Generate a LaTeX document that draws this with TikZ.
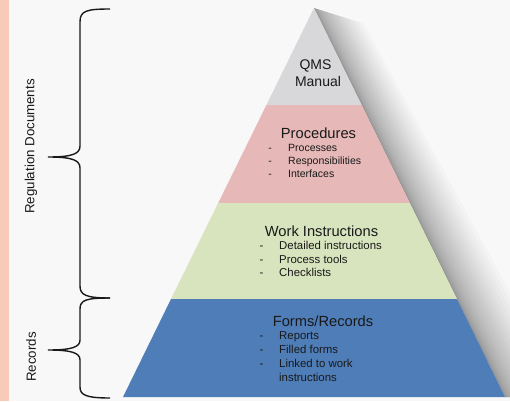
\documentclass[tikz,border=0pt]{standalone}
\usepackage{fontspec}
\setmainfont{Liberation Sans}
\usetikzlibrary{calc}
\begin{document}
\begin{tikzpicture}[x=1pt,y=-1pt,
  txt/.style={inner sep=0pt, text=black!90},
  title/.style={txt, anchor=base, font=\fontsize{14.7}{16}\selectfont},
  item/.style={txt, anchor=base west, font=\fontsize{10.5}{12}\selectfont},
  itemb/.style={txt, anchor=base west, font=\fontsize{11.4}{13}\selectfont},
  brace/.style={line width=1.4pt, black!90},
  side/.style={txt, rotate=90, font=\fontsize{13.3}{15}\selectfont}]
\definecolor{bg}{HTML}{F8F8F8}
\definecolor{strip}{HTML}{F8CBB8}
\definecolor{topgray}{HTML}{D8D8DA}
\definecolor{pinkband}{HTML}{E6B9B8}
\definecolor{greenband}{HTML}{D8E4BE}
\definecolor{blueband}{HTML}{4F7DB8}
\useasboundingbox (0,0) rectangle (510,401);
\fill[bg] (0,0) rectangle (510,401);
\fill[strip] (0,0) rectangle (9,401);
% coordinates of the pyramid
\coordinate (apex) at (314,8);
\coordinate (bl) at (123,397);
\coordinate (br) at (505,397);
% soft shadow along the right edge
\foreach \k in {1,...,24}{
  \pgfmathsetmacro\w{62*(\k/24)^2}
  \fill[black, opacity=0.021] (apex) -- (br) -- ($(br)+(\w,0)$) -- ($(apex)+(\w*0.8,\w*0.25)$) -- cycle;
}
% bands (half width = 191*(y-8)/389)
\fill[topgray] (apex) -- (361.6,105) -- (266.4,105) -- cycle;
\fill[pinkband] (266.4,105) -- (361.6,105) -- (409.8,203) -- (218.2,203) -- cycle;
\fill[greenband] (218.2,203) -- (409.8,203) -- (457.0,299) -- (171.0,299) -- cycle;
\fill[blueband] (171.0,299) -- (457.0,299) -- (br) -- (bl) -- cycle;
% texts
\node[title, font=\fontsize{14}{16}\selectfont] (qms) at (315.5,70) {QMS};
\node[title, font=\fontsize{14}{16}\selectfont] (man) at (318,87) {Manual};
\node[title] (proc) at (318.5,138) {Procedures};
\node[item] (p1) at (288,151.5) {Processes};
\node[item] (p2) at (288,164.5) {Responsibilities};
\node[item] (p3) at (288,177.5) {Interfaces};
\foreach \n in {p1,p2,p3}{\node[item, anchor=base east] at ($(\n.base west)+(-16,0)$) {-};}
\node[title] (wi) at (321.5,236) {Work Instructions};
\node[itemb] (w1) at (279,249) {Detailed instructions};
\node[itemb] (w2) at (279,263) {Process tools};
\node[itemb] (w3) at (279,276) {Checklists};
\foreach \n in {w1,w2,w3}{\node[itemb, anchor=base east] at ($(\n.base west)+(-15.5,0)$) {-};}
\node[title] (fr) at (323,326) {Forms/Records};
\node[itemb] (f1) at (279,339) {Reports};
\node[itemb] (f2) at (279,353) {Filled forms};
\node[itemb] (f3) at (279,367) {Linked to work};
\node[itemb] (f4) at (279,381) {instructions};
\foreach \n in {f1,f2,f3}{\node[itemb, anchor=base east] at ($(\n.base west)+(-15.5,0)$) {-};}
% braces
\draw[brace] (110,9) .. controls (86,9) and (80,11) .. (80,22) -- (80,146)
  .. controls (80,154) and (72,157) .. (48,157)
  .. controls (72,157) and (80,160) .. (80,168) -- (80,286)
  .. controls (80,295) and (86,298) .. (110,298);
\draw[brace] (110,298) .. controls (86,298) and (80,300) .. (80,309) -- (80,340)
  .. controls (80,347) and (72,350) .. (48,350)
  .. controls (72,350) and (80,353) .. (80,360) -- (80,387)
  .. controls (80,395) and (86,398) .. (110,398);
\node[side] (reg) at (31,146.5) {Regulation Documents};
\node[side] (rec) at (31,357) {Records};
\end{tikzpicture}
\end{document}
